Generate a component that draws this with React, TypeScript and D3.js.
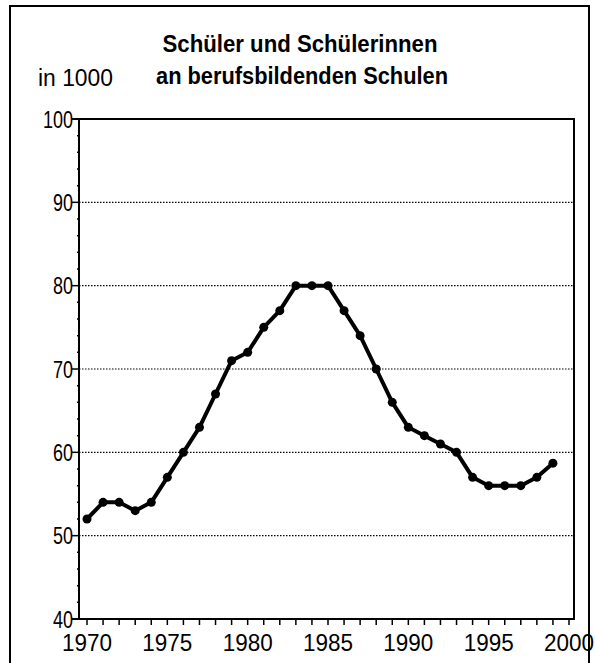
import React from "react";
import * as d3 from "d3";

const years = [1970,1971,1972,1973,1974,1975,1976,1977,1978,1979,1980,1981,1982,1983,1984,1985,1986,1987,1988,1989,1990,1991,1992,1993,1994,1995,1996,1997,1998,1999];
const values = [52,54,54,53,54,57,60,63,67,71,72,75,77,80,80,80,77,74,70,66,63,62,61,60,57,56,56,56,57,58.7];
const yTicks = [40,50,60,70,80,90,100];
const xTicks = [1970,1975,1980,1985,1990,1995,2000];
const titleLines = ["Schüler und Schülerinnen","an berufsbildenden Schulen"];
const unitLabel = "in 1000";

const W = 595, H = 663;
const left = 79, right = 574, top = 119, bottom = 619;
const FONT = "'Liberation Sans', Arial, sans-serif";

export default function App() {
  const x = d3.scaleLinear().domain([1970, 2000]).range([87, 569]);
  const y = d3.scaleLinear().domain([40, 100]).range([bottom, top]);
  const line = d3.line<number>().x((_, i) => x(years[i])).y((d) => y(d));
  const minorY = d3.range(40, 101, 2);
  const yearTicks = d3.range(1970, 2001, 1);

  return (
    <svg width={W} height={H} style={{ position: "absolute", left: 0, top: 0, background: "#fff" }}>
      <rect x={0} y={0} width={W} height={H} fill="#fff" />
      {/* outer frame */}
      <rect x={10} y={6} width={579} height={H + 10} fill="none" stroke="#000" strokeWidth={2} />
      {/* title */}
      <text x={300} y={52} textAnchor="middle" fontFamily={FONT} fontWeight="bold" fontSize={23} textLength={275} lengthAdjust="spacingAndGlyphs">{titleLines[0]}</text>
      <text x={302} y={84} textAnchor="middle" fontFamily={FONT} fontWeight="bold" fontSize={23} textLength={292} lengthAdjust="spacingAndGlyphs">{titleLines[1]}</text>
      <text x={38} y={86} fontFamily={FONT} fontSize={23} textLength={75} lengthAdjust="spacingAndGlyphs">{unitLabel}</text>
      {/* gridlines */}
      {yTicks.filter((t) => t > 40 && t < 100).map((t) => (
        <line key={"g" + t} x1={left} x2={right} y1={y(t)} y2={y(t)} stroke="#000" strokeWidth={1.2} strokeDasharray="1.5 1.5" />
      ))}
      {/* plot box top and right */}
      <line x1={72} x2={right + 1} y1={top} y2={top} stroke="#000" strokeWidth={2} />
      <line x1={right} x2={right} y1={top} y2={bottom} stroke="#000" strokeWidth={2} />
      {/* axes */}
      <line x1={left} x2={left} y1={top} y2={bottom} stroke="#000" strokeWidth={2} />
      <line x1={72} x2={right + 1} y1={bottom} y2={bottom} stroke="#000" strokeWidth={2} />
      {/* y ticks */}
      {minorY.map((t) => (
        <line key={"my" + t} x1={t % 10 === 0 ? 72 : 77} x2={left} y1={y(t)} y2={y(t)} stroke="#000" strokeWidth={1.5} />
      ))}
      {yTicks.map((t) => (
        <text key={"yl" + t} x={73} y={y(t) + 8.5} textAnchor="end" fontFamily={FONT} fontSize={23} textLength={t === 100 ? 30 : 20} lengthAdjust="spacingAndGlyphs">{t}</text>
      ))}
      {/* x ticks */}
      {yearTicks.map((t) => (
        <line key={"xt" + t} x1={x(t)} x2={x(t)} y1={bottom} y2={bottom + 6} stroke="#000" strokeWidth={1.5} />
      ))}
      {xTicks.map((t) => (
        <text key={"xl" + t} x={x(t)} y={651} textAnchor="middle" fontFamily={FONT} fontSize={23} textLength={50} lengthAdjust="spacingAndGlyphs">{t}</text>
      ))}
      {/* data line */}
      <path d={line(values) || ""} fill="none" stroke="#000" strokeWidth={4} strokeLinejoin="round" />
      {values.map((v, i) => (
        <circle key={"p" + i} cx={x(years[i])} cy={y(v)} r={4.5} fill="#000" />
      ))}
    </svg>
  );
}
